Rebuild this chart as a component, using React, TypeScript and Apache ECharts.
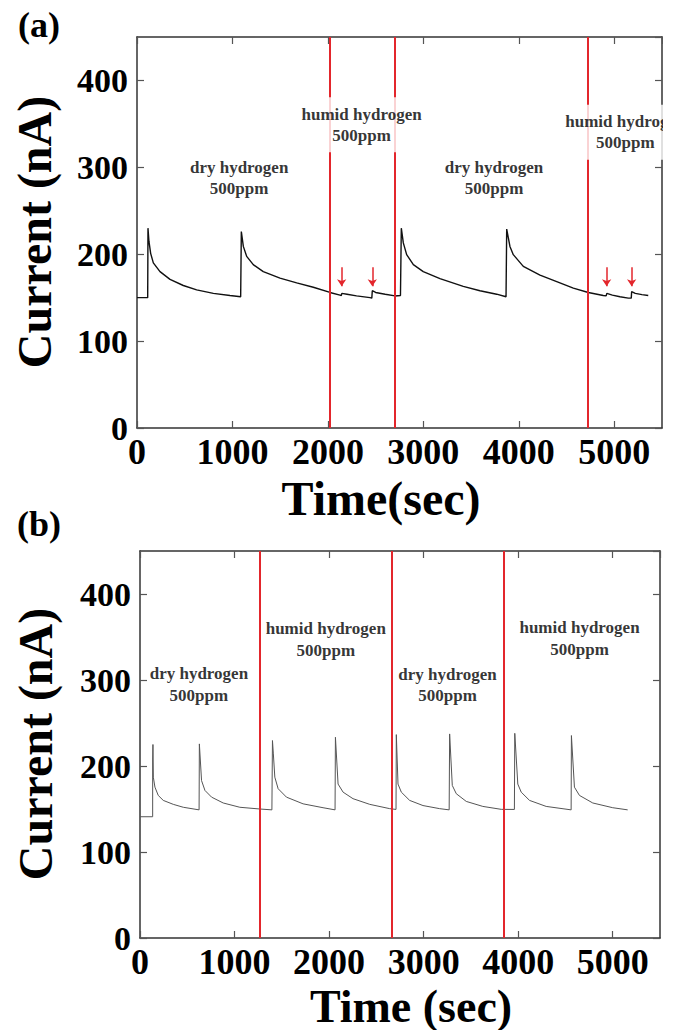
import React, { useEffect, useRef } from "react";
import * as echarts from "echarts";

// ---------- data ----------
const timeA = [0, 112, 115, 125, 143, 171, 241, 346, 485, 625, 800, 974, 1086,
  1090, 1093, 1114, 1149, 1218, 1323, 1498, 1673, 1847, 2022, 2127, 2140, 2146, 2200, 2300, 2441, 2460, 2465, 2500, 2600, 2703, 2760,
  2766, 2769, 2790, 2825, 2895, 2999, 3174, 3418, 3593, 3768, 3866,
  3870, 3873, 3907, 3942, 4047, 4222, 4397, 4571, 4728, 4885, 4915, 4922, 4980, 5060, 5147, 5178, 5182, 5220, 5290, 5356];
const currentA = [150, 150, 230, 215, 201, 190, 180, 171, 164, 159, 155, 152.5, 151,
  151, 226, 209, 197.5, 188, 180, 172.5, 167, 162, 156, 153, 152.5, 155, 154, 152, 150, 149.5, 158, 156, 154, 152, 152.5,
  152.5, 230, 213, 199.5, 188, 180, 172, 163, 158, 154, 151,
  151, 229, 209, 199.5, 186, 176, 168.5, 161, 156, 152.5, 152, 155, 153, 151, 149.5, 149.5, 157, 155, 153.5, 152.5];

const timeB = [0, 134, 134, 137, 141, 158, 193, 246, 352, 458, 625,
  627, 628, 651, 687, 757, 880, 1056, 1268, 1395,
  1399, 1401, 1410, 1426, 1461, 1549, 1725, 1936, 2063,
  2066, 2067, 2095, 2148, 2253, 2430, 2641, 2708,
  2710, 2711, 2729, 2764, 2852, 2993, 3169, 3270,
  3273, 3275, 3303, 3345, 3451, 3626, 3821, 3960,
  3962, 3964, 3996, 4032, 4120, 4296, 4560,
  4562, 4563, 4595, 4648, 4789, 5000, 5158];
const currentB = [141, 141, 207, 225, 187, 175.4, 165.8, 160, 155.4, 152, 149,
  149, 225.7, 183, 171.6, 163.8, 157, 152, 150, 149,
  149, 229.6, 215, 187, 173.6, 163.8, 156, 151.5, 149,
  149, 233.4, 179, 169.6, 162, 155.4, 150.4, 149.5,
  149.5, 236.5, 179, 169.6, 160, 154, 150.4, 149,
  149, 237.3, 177.4, 167.8, 158.8, 153, 149.6, 149.5,
  149.5, 238, 179, 169.6, 160, 153, 149,
  149, 235.4, 175.4, 165.8, 157, 151.5, 149];

const switchTimesA = [2015, 2700, 4725];
const switchTimesB = [1268, 2665, 3845];
const arrowTimesA = [2144, 2465, 4920, 5182];
const arrowTop = 185;
const arrowTip = 163;

const labelTextA = ["dry hydrogen\n500ppm", "humid hydrogen\n500ppm", "dry hydrogen\n500ppm", "humid hydrogen\n500ppm"];
const labelTimeA = [1070, 2353, 3740, 5116];
const labelCurrentA = [287.5, 349, 287.5, 340.4];
const labelTextB = ["dry hydrogen\n500ppm", "humid hydrogen\n500ppm", "dry hydrogen\n500ppm", "humid hydrogen\n500ppm"];
const labelTimeB = [623, 1965, 3253, 4649];
const labelCurrentB = [295, 347, 294, 348];

const xMin = 0, xMax = 5500, xStep = 1000;
const yMin = 0, yMax = 450, yStep = 100;

// ---------- styling ----------
const FONT = "'Liberation Serif', 'Times New Roman', serif";
const RED = "#e3262c";
const FRAME = { color: "#333", width: 1.5 };
const TICK = { inside: true, length: 7, lineStyle: { color: "#555", width: 1.2 } };

function xAxes(grid: number) {
  const base = {
    gridIndex: grid, type: "value", min: xMin, max: xMax, interval: xStep,
    splitLine: { show: false },
    axisLine: { show: true, onZero: false, lineStyle: FRAME },
    axisTick: TICK,
  };
  return [
    { ...base, position: "bottom",
      axisLabel: { fontSize: 36, lineHeight: 28, fontWeight: "bold", color: "#000", fontFamily: FONT, margin: 10,
        showMaxLabel: false, formatter: (v: number) => String(v) } },
    { ...base, position: "top", axisLabel: { show: false } },
  ];
}
function yAxes(grid: number) {
  const base = {
    gridIndex: grid, type: "value", min: yMin, max: yMax, interval: yStep,
    splitLine: { show: false },
    axisLine: { show: true, onZero: false, lineStyle: FRAME },
    axisTick: TICK,
  };
  return [
    { ...base, position: "left",
      axisLabel: { fontSize: 34, fontWeight: "bold", color: "#000", fontFamily: FONT, margin: 9,
        showMaxLabel: false, formatter: (v: number) => String(v) } },
    { ...base, position: "right", axisLabel: { show: false } },
  ];
}

function labelSeries(axis: number, texts: string[], times: number[], currents: number[], bgIdx: number[]) {
  return {
    type: "scatter", xAxisIndex: axis, yAxisIndex: axis, z: 20, silent: true,
    symbolSize: 1, itemStyle: { color: "rgba(0,0,0,0)" },
    label: {
      show: true, position: "inside", formatter: "{b}", fontSize: 17, fontWeight: "bold",
      fontFamily: FONT, color: "#000", lineHeight: 21.5, align: "center", verticalAlign: "middle",
    },
    data: texts.map((t, i) => ({
      name: t, value: [times[i], currents[i]],
      label: bgIdx.includes(i) ? { backgroundColor: "#fff", padding: [6, 4] } : {},
    })),
  };
}

export default function App() {
  const ref = useRef<HTMLDivElement>(null);
  useEffect(() => {
    if (!ref.current) return;
    const chart = echarts.init(ref.current, undefined, { renderer: "svg" });
    const titleStyle = (text: string, size: number) => ({
      text, fontSize: size, fontWeight: "bold", fontFamily: FONT, fill: "#000", align: "center", verticalAlign: "middle",
    });
    chart.setOption({
      animation: false,
      backgroundColor: "#fff",
      grid: [
        { left: 137, top: 37, width: 525, height: 391, containLabel: false },
        { left: 140, top: 551, width: 520, height: 387, containLabel: false },
      ],
      xAxis: [...xAxes(0), ...xAxes(1)],
      yAxis: [...yAxes(0), ...yAxes(1)],
      series: [
        {
          type: "line", xAxisIndex: 0, yAxisIndex: 0, showSymbol: false, silent: true,
          lineStyle: { color: "#111", width: 1.4 },
          data: timeA.map((t, i) => [t, currentA[i]]),
          markLine: {
            silent: true, symbol: "none", label: { show: false },
            lineStyle: { color: RED, width: 2, type: "solid" },
            data: switchTimesA.map((t) => ({ xAxis: t })),
          },
        },
        {
          ...labelSeries(0, labelTextA, labelTimeA, labelCurrentA, [1, 3]),
          markLine: {
            silent: true, symbol: ["none", "arrow"], symbolSize: 7, label: { show: false },
            lineStyle: { color: RED, width: 1.5, type: "solid" },
            data: arrowTimesA.map((t) => [{ coord: [t, arrowTop] }, { coord: [t, arrowTip] }]),
          },
        },
        {
          type: "line", xAxisIndex: 2, yAxisIndex: 2, showSymbol: false, silent: true,
          lineStyle: { color: "#555", width: 1 },
          data: timeB.map((t, i) => [t, currentB[i]]),
          markLine: {
            silent: true, symbol: "none", label: { show: false },
            lineStyle: { color: RED, width: 2, type: "solid" },
            data: switchTimesB.map((t) => ({ xAxis: t })),
          },
        },
        labelSeries(2, labelTextB, labelTimeB, labelCurrentB, []),
      ],
      graphic: [
        { type: "rect", z: 100, silent: true, shape: { x: 663, y: 30, width: 12, height: 405 }, style: { fill: "#fff" } },
        { type: "text", z: 101, x: 39, y: 25, style: titleStyle("(a)", 36) },
        { type: "text", z: 101, x: 39, y: 524, style: titleStyle("(b)", 36) },
        { type: "text", z: 101, x: 34, y: 232, rotation: Math.PI / 2, style: titleStyle("Current (nA)", 48) },
        { type: "text", z: 101, x: 35, y: 744, rotation: Math.PI / 2, style: titleStyle("Current (nA)", 48) },
        { type: "text", z: 101, x: 381, y: 498, style: titleStyle("Time(sec)", 48) },
        { type: "text", z: 101, x: 411, y: 1006, style: titleStyle("Time (sec)", 46) },
      ],
    });
    return () => chart.dispose();
  }, []);
  return (
    <div
      ref={ref}
      style={{ position: "fixed", left: 0, top: 0, width: 673, height: 1030, background: "#fff" }}
    />
  );
}
